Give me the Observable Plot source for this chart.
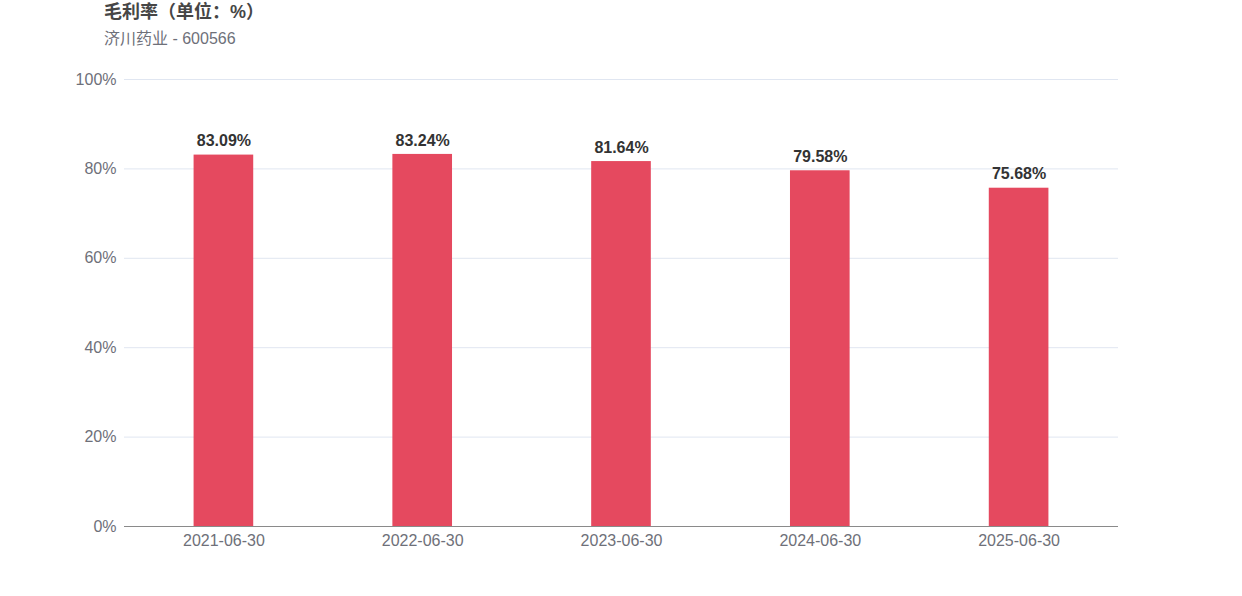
<!DOCTYPE html>
<html lang="zh-CN"><head><meta charset="utf-8">
<script src="https://cdn.jsdelivr.net/npm/d3@7"></script>
<script src="https://cdn.jsdelivr.net/npm/@observablehq/plot@0.6"></script>
<style>
body{margin:0;background:#fff;font-family:"Liberation Sans","Noto Sans CJK SC",sans-serif;}
#wrap{position:relative;width:1242px;height:596px;}
#title{position:absolute;left:104px;top:1px;font-size:18px;font-weight:bold;color:#464646;line-height:22px;white-space:nowrap;font-family:"Liberation Sans","Noto Sans CJK SC",sans-serif;}
#sub{position:absolute;left:104px;top:29px;font-size:16px;color:#6e7079;line-height:20px;white-space:nowrap;}
#chart{position:absolute;left:0;top:0;}
</style></head>
<body><div id="wrap"><div id="chart"></div><div id="title">毛利率（单位：%）</div><div id="sub">济川药业 - 600566</div></div>
<script>
const dates = ["2021-06-30","2022-06-30","2023-06-30","2024-06-30","2025-06-30"];
const margins = [83.09, 83.24, 81.64, 79.58, 75.68];
const yTicks = [0, 20, 40, 60, 80, 100];

const data = dates.map((d, i) => ({date: d, value: margins[i]}));

const chart = Plot.plot({
  width: 1242,
  height: 596,
  marginTop: 79,
  marginBottom: 70,
  marginLeft: 124,
  marginRight: 124,
  style: {fontFamily: '"Liberation Sans","Noto Sans CJK SC",sans-serif', fontSize: "16px", background: "transparent"},
  x: {domain: dates, paddingInner: 0.7, paddingOuter: 0.35, round: false, label: null},
  y: {domain: [0, 100], label: null},
  marks: [
    Plot.gridY(yTicks, {stroke: "#e0e6f1", strokeOpacity: 1, strokeWidth: 1}),
    Plot.barY(data, {x: "date", y: "value", fill: "#e5495f"}),
    Plot.ruleY([0], {stroke: "#8a8a8a", strokeWidth: 1}),
    Plot.axisY(yTicks, {tickSize: 0, tickPadding: 8, tickFormat: d => d + "%", fill: "#6e7079", fontSize: 16, label: null}),
    Plot.axisX({tickSize: 0, tickPadding: 8, fill: "#6e7079", fontSize: 16, label: null}),
    Plot.text(data, {x: "date", y: "value", text: d => d.value.toFixed(2) + "%", dy: -14, fill: "#333", fontWeight: "bold", fontSize: 16})
  ]
});
document.getElementById("chart").appendChild(chart);
</script></body></html>
